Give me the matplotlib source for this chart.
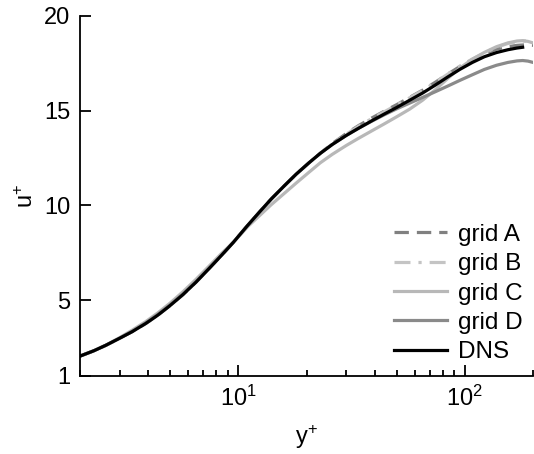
import matplotlib
matplotlib.use('Agg')
import matplotlib.pyplot as plt
import numpy as np
from matplotlib.ticker import FixedLocator, LogLocator, NullFormatter

plt.rcParams['font.family'] = ['Liberation Sans', 'DejaVu Sans']
plt.rcParams['mathtext.fontset'] = 'custom'
plt.rcParams['mathtext.rm'] = 'Liberation Sans'
plt.rcParams['mathtext.it'] = 'Liberation Sans'
plt.rcParams['mathtext.default'] = 'regular'

# y+ stations
yplus = [2, 2.3, 2.6, 3, 3.4, 3.9, 4.4, 5, 5.7, 6.5, 7.4, 8.4, 9.5, 11, 12.5, 14, 16, 18, 20.5, 23, 26, 30,
         34, 39, 44, 50, 57, 65, 74, 84, 95, 108, 122, 138, 155, 170, 180, 190, 200]

u_grid_a = [2.05, 2.33, 2.62, 3.0, 3.34, 3.77, 4.2, 4.72, 5.3, 5.95, 6.65, 7.35, 8.05, 8.95, 9.7, 10.35, 11.05,
            11.65, 12.25, 12.75, 13.27, 13.8, 14.22, 14.63, 14.97, 15.32, 15.7, 16.08, 16.5, 16.93, 17.33, 17.7,
            18.0, 18.25, 18.38, 18.45, 18.47, 18.47, 18.45]
u_grid_b = [2.05, 2.33, 2.62, 3.0, 3.34, 3.77, 4.2, 4.72, 5.3, 5.95, 6.65, 7.35, 8.05, 8.95, 9.7, 10.35, 11.05,
            11.65, 12.25, 12.75, 13.25, 13.77, 14.18, 14.6, 14.94, 15.3, 15.68, 16.06, 16.49, 16.93, 17.35, 17.73,
            18.05, 18.35, 18.55, 18.65, 18.68, 18.68, 18.65]
u_grid_c = [2.05, 2.33, 2.63, 3.03, 3.42, 3.87, 4.32, 4.85, 5.45, 6.1, 6.78, 7.45, 8.05, 8.88, 9.5, 10.05, 10.65,
            11.18, 11.75, 12.25, 12.7, 13.17, 13.55, 13.95, 14.3, 14.68, 15.08, 15.55, 16.1, 16.7, 17.25, 17.72,
            18.08, 18.38, 18.58, 18.68, 18.7, 18.66, 18.58]
u_grid_d = [2.05, 2.33, 2.62, 3.0, 3.36, 3.8, 4.24, 4.76, 5.34, 5.98, 6.67, 7.36, 8.05, 8.95, 9.7, 10.35, 11.05,
            11.65, 12.25, 12.75, 13.22, 13.7, 14.08, 14.46, 14.78, 15.1, 15.4, 15.7, 16.0, 16.3, 16.6, 16.9,
            17.18, 17.4, 17.55, 17.63, 17.65, 17.62, 17.55]

yplus_dns = [2, 2.3, 2.6, 3, 3.4, 3.9, 4.4, 5, 5.7, 6.5, 7.4, 8.4, 9.5, 11, 12.5, 14, 16, 18, 20.5, 23, 26, 30,
             34, 39, 44, 50, 57, 65, 74, 84, 95, 108, 122, 138, 155, 170, 180]
u_dns = [2.05, 2.33, 2.62, 3.0, 3.34, 3.77, 4.2, 4.72, 5.3, 5.95, 6.65, 7.35, 8.05, 8.95, 9.7, 10.35, 11.05,
         11.65, 12.25, 12.75, 13.22, 13.7, 14.08, 14.48, 14.82, 15.17, 15.55, 15.93, 16.35, 16.78, 17.18, 17.55,
         17.85, 18.07, 18.22, 18.31, 18.35]

fig = plt.figure(figsize=(5.34, 4.54), dpi=100)
ax = fig.add_axes([80 / 534, 1 - 376 / 454, 453 / 534, 360 / 454])

ax.plot(yplus, u_grid_a, color='#808080', lw=2.3, ls=(0, (4.5, 2.5)), label='grid A')
ax.plot(yplus, u_grid_b, color='#c4c4c4', lw=2.3, ls=(0, (5, 2.5, 1, 2.5)), label='grid B')
ax.plot(yplus, u_grid_c, color='#b8b8b8', lw=2.3, label='grid C')
ax.plot(yplus, u_grid_d, color='#8a8a8a', lw=2.3, label='grid D')
ax.plot(yplus_dns, u_dns, color='black', lw=2.3, label='DNS')

ax.set_xscale('log')
ax.set_xlim(2, 200)
ax.set_ylim(1, 20)
ax.set_yticks([1, 5, 10, 15, 20])
ax.set_yticklabels(['1', '5', '10', '15', '20'])
ax.xaxis.set_major_locator(FixedLocator([10, 100]))
ax.set_xticklabels(['10$^{1}$', '10$^{2}$'])
ax.xaxis.set_minor_locator(LogLocator(base=10, subs=np.arange(2, 10)))
ax.xaxis.set_minor_formatter(NullFormatter())

for side in ['top', 'right']:
    ax.spines[side].set_visible(False)
for side in ['left', 'bottom']:
    ax.spines[side].set_linewidth(1.3)
ax.tick_params(which='both', direction='in', labelsize=17, width=1.3)
ax.tick_params(which='major', length=8, pad=7)
ax.tick_params(which='minor', length=4)

ax.set_xlabel('y$^{+}$', fontsize=17, labelpad=9)
ax.set_ylabel('u$^{+}$', fontsize=17, labelpad=4)

ax.legend(loc='lower right', bbox_to_anchor=(1.01, -0.005), frameon=False, fontsize=17.5, handlelength=2.2,
          handletextpad=0.45, labelspacing=0.3, borderaxespad=0.2)

fig.savefig('out.png', dpi=100)
